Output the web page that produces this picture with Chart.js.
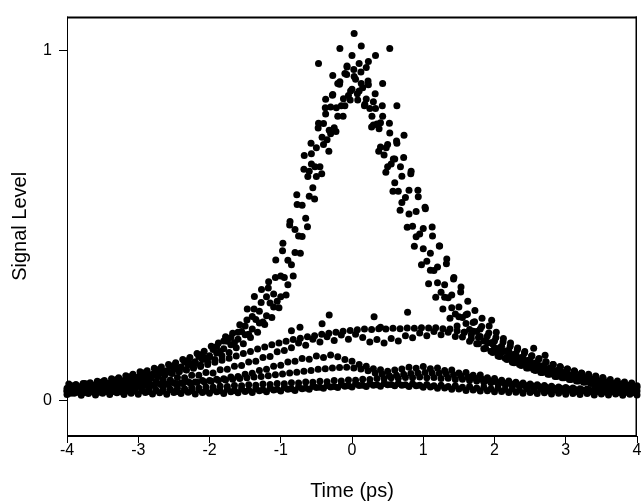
<!DOCTYPE html>
<html>
<head>
<meta charset="utf-8">
<script src="https://cdn.jsdelivr.net/npm/chart.js@4"></script>
<style>
   body { margin: 0; background: #fff; }
   canvas { display: block; }
</style>
</head>
<body>
<canvas id="signalChart" width="641" height="504"></canvas>
<script>
// Time axis samples (ps)
const timeA = [
   -4.0, -3.9, -3.8, -3.7, -3.6, -3.5, -3.4, -3.3, -3.2, -3.1,
   -3.0, -2.9, -2.8, -2.7, -2.6, -2.5, -2.4, -2.3, -2.2, -2.1,
   -2.0, -1.9, -1.8, -1.7, -1.6, -1.5, -1.4, -1.3, -1.2, -1.1,
   -1.0, -0.9, -0.8, -0.7, -0.6, -0.5, -0.4, -0.3, -0.2, -0.1,
   0.0, 0.1, 0.2, 0.3, 0.4, 0.5, 0.6, 0.7, 0.8, 0.9,
   1.0, 1.1, 1.2, 1.3, 1.4, 1.5, 1.6, 1.7, 1.8, 1.9,
   2.0, 2.1, 2.2, 2.3, 2.4, 2.5, 2.6, 2.7, 2.8, 2.9,
   3.0, 3.1, 3.2, 3.3, 3.4, 3.5, 3.6, 3.7, 3.8, 3.9,
   4.0
];
const timeB = [
   -3.95, -3.85, -3.75, -3.65, -3.55, -3.45, -3.35, -3.25, -3.15, -3.05,
   -2.95, -2.85, -2.75, -2.65, -2.55, -2.45, -2.35, -2.25, -2.15, -2.05,
   -1.95, -1.85, -1.75, -1.65, -1.55, -1.45, -1.35, -1.25, -1.15, -1.05,
   -0.95, -0.85, -0.75, -0.65, -0.55, -0.45, -0.35, -0.25, -0.15, -0.05,
   0.05, 0.15, 0.25, 0.35, 0.45, 0.55, 0.65, 0.75, 0.85, 0.95,
   1.05, 1.15, 1.25, 1.35, 1.45, 1.55, 1.65, 1.75, 1.85, 1.95,
   2.05, 2.15, 2.25, 2.35, 2.45, 2.55, 2.65, 2.75, 2.85, 2.95,
   3.05, 3.15, 3.25, 3.35, 3.45, 3.55, 3.65, 3.75, 3.85, 3.95
];
const timeD = [
   -3.975, -3.875, -3.775, -3.675, -3.575, -3.475, -3.375, -3.275, -3.175, -3.075,
   -2.975, -2.875, -2.775, -2.675, -2.575, -2.475, -2.375, -2.275, -2.175, -2.075,
   -1.975, -1.875, -1.775, -1.675, -1.575, -1.475, -1.375, -1.275, -1.175, -1.075,
   -0.975, -0.875, -0.775, -0.675, -0.575, -0.475, -0.375, -0.275, -0.175, -0.075,
   0.025, 0.125, 0.225, 0.325, 0.425, 0.525, 0.625, 0.725, 0.825, 0.925,
   1.025, 1.125, 1.225, 1.325, 1.425, 1.525, 1.625, 1.725, 1.825, 1.925,
   2.025, 2.125, 2.225, 2.325, 2.425, 2.525, 2.625, 2.725, 2.825, 2.925,
   3.025, 3.125, 3.225, 3.325, 3.425, 3.525, 3.625, 3.725, 3.825, 3.925
];
const timeE = [
   -3.925, -3.825, -3.725, -3.625, -3.525, -3.425, -3.325, -3.225, -3.125, -3.025,
   -2.925, -2.825, -2.725, -2.625, -2.525, -2.425, -2.325, -2.225, -2.125, -2.025,
   -1.925, -1.825, -1.725, -1.625, -1.525, -1.425, -1.325, -1.225, -1.125, -1.025,
   -0.925, -0.825, -0.725, -0.625, -0.525, -0.425, -0.325, -0.225, -0.125, -0.025,
   0.075, 0.175, 0.275, 0.375, 0.475, 0.575, 0.675, 0.775, 0.875, 0.975,
   1.075, 1.175, 1.275, 1.375, 1.475, 1.575, 1.675, 1.775, 1.875, 1.975,
   2.075, 2.175, 2.275, 2.375, 2.475, 2.575, 2.675, 2.775, 2.875, 2.975,
   3.075, 3.175, 3.275, 3.375, 3.475, 3.575, 3.675, 3.775, 3.875, 3.975
];
const timeC = [
   -1.47, -1.37, -1.27, -1.17, -1.07, -0.97, -0.87, -0.77, -0.67, -0.57,
   -0.47, -0.37, -0.27, -0.17, -0.07, 0.03, 0.13, 0.23, 0.33, 0.43,
   0.53, 0.63, 0.73, 0.83, 0.93, 1.03, 1.13, 1.23, 1.33, 1.43,
   1.53
];
const topTime = [
   -0.62, -0.57, -0.52, -0.47, -0.42, -0.37, -0.32, -0.27, -0.22, -0.17,
   -0.12, -0.07, -0.02, 0.03, 0.08, 0.13, 0.18, 0.23, 0.28, 0.33,
   0.38, 0.43, 0.48, 0.53, 0.58, 0.63, 0.68
];
const tailTime = [
   1.62, 1.72, 1.82, 1.92, 2.02, 2.12, 2.22, 2.32, 2.42, 2.52,
   2.62, 2.72, 2.82, 2.92, 3.02, 3.12, 3.22, 3.32, 3.42, 3.52
];
const strayTime = [-0.85, -0.73, -0.42, -0.32, 0.31, 0.40, 0.78, 1.96, 2.55, 2.71];

// Signal levels, one array per scan
const peak1 = [
   0.036, 0.043, 0.039, 0.048, 0.044, 0.055, 0.050, 0.061, 0.058, 0.070,
   0.068, 0.081, 0.076, 0.090, 0.086, 0.101, 0.097, 0.115, 0.112, 0.133,
   0.129, 0.155, 0.149, 0.181, 0.176, 0.214, 0.205, 0.256, 0.243, 0.305,
   0.297, 0.401, 0.423, 0.558, 0.584, 0.722, 0.731, 0.838, 0.812, 0.934,
   0.889, 0.962, 0.861, 0.853, 0.724, 0.731, 0.622, 0.641, 0.533, 0.540,
   0.434, 0.421, 0.337, 0.331, 0.266, 0.268, 0.221, 0.224, 0.184, 0.185,
   0.152, 0.156, 0.130, 0.134, 0.112, 0.116, 0.097, 0.099, 0.083, 0.086,
   0.072, 0.075, 0.062, 0.065, 0.055, 0.057, 0.048, 0.050, 0.042, 0.044,
   0.038
];
const peak2 = [
   0.044, 0.041, 0.050, 0.045, 0.053, 0.049, 0.060, 0.056, 0.069, 0.064,
   0.080, 0.074, 0.088, 0.083, 0.098, 0.094, 0.111, 0.106, 0.127, 0.122,
   0.147, 0.141, 0.170, 0.166, 0.198, 0.190, 0.232, 0.225, 0.279, 0.284,
   0.352, 0.388, 0.470, 0.521, 0.608, 0.668, 0.745, 0.779, 0.842, 0.871,
   0.917, 0.893, 0.834, 0.790, 0.701, 0.676, 0.598, 0.580, 0.498, 0.476,
   0.398, 0.372, 0.310, 0.294, 0.248, 0.238, 0.204, 0.198, 0.171, 0.166,
   0.145, 0.141, 0.124, 0.120, 0.107, 0.104, 0.092, 0.090, 0.080, 0.078,
   0.069, 0.067, 0.060, 0.058, 0.053, 0.051, 0.047, 0.045, 0.042, 0.040
];
const peak3 = [
   0.030, 0.034, 0.037, 0.039, 0.041, 0.043, 0.047, 0.050, 0.055, 0.058,
   0.063, 0.067, 0.072, 0.078, 0.082, 0.090, 0.095, 0.103, 0.108, 0.118,
   0.126, 0.137, 0.171, 0.160, 0.196, 0.189, 0.241, 0.222, 0.297, 0.268,
   0.356, 0.331, 0.489, 0.469, 0.655, 0.640, 0.791, 0.762, 0.905, 0.842,
   0.985, 0.884, 0.951, 0.787, 0.793, 0.668, 0.690, 0.566, 0.601, 0.468,
   0.492, 0.373, 0.382, 0.296, 0.302, 0.240, 0.246, 0.199, 0.205, 0.166,
   0.171, 0.139, 0.144, 0.119, 0.124, 0.103, 0.108, 0.089, 0.094, 0.077,
   0.082, 0.067, 0.071, 0.059, 0.062, 0.052, 0.055, 0.046, 0.049, 0.041,
   0.043
];
const peak4 = [
   0.048, 0.047, 0.050, 0.052, 0.056, 0.058, 0.063, 0.066, 0.072, 0.076,
   0.083, 0.086, 0.093, 0.097, 0.104, 0.109, 0.118, 0.124, 0.135, 0.142,
   0.156, 0.165, 0.183, 0.193, 0.217, 0.231, 0.262, 0.281, 0.322, 0.352,
   0.428, 0.502, 0.588, 0.661, 0.735, 0.778, 0.836, 0.872, 0.903, 0.931,
   0.945, 0.938, 0.912, 0.876, 0.842, 0.792, 0.741, 0.694, 0.648, 0.601,
   0.552, 0.496, 0.442, 0.391, 0.348, 0.311, 0.284, 0.258, 0.236, 0.214,
   0.196, 0.178, 0.165, 0.151, 0.141, 0.129, 0.121, 0.111, 0.104, 0.096,
   0.091, 0.084, 0.079, 0.073, 0.069, 0.064, 0.061, 0.057, 0.054, 0.051
];
const peak5 = [
   0.034, 0.036, 0.037, 0.040, 0.041, 0.044, 0.046, 0.050, 0.053, 0.057,
   0.061, 0.065, 0.069, 0.074, 0.078, 0.084, 0.089, 0.096, 0.102, 0.111,
   0.118, 0.129, 0.138, 0.152, 0.163, 0.181, 0.196, 0.218, 0.238, 0.266,
   0.302, 0.356, 0.421, 0.497, 0.576, 0.648, 0.712, 0.768, 0.812, 0.858,
   0.876, 0.842, 0.781, 0.712, 0.652, 0.598, 0.544, 0.495, 0.441, 0.388,
   0.334, 0.296, 0.262, 0.236, 0.214, 0.196, 0.178, 0.163, 0.150, 0.138,
   0.127, 0.118, 0.109, 0.101, 0.094, 0.087, 0.081, 0.076, 0.070, 0.066,
   0.061, 0.057, 0.054, 0.050, 0.047, 0.044, 0.042, 0.039, 0.037, 0.035
];
const peakExtra = [
   0.262, 0.298, 0.318, 0.340, 0.402, 0.450, 0.512, 0.560, 0.700, 0.676,
   0.962, 0.860, 0.928, 1.005, 0.955, 1.048, 1.012, 0.968, 0.985, 0.905,
   1.005, 0.842, 0.758, 0.655, 0.582, 0.548, 0.470, 0.442, 0.405, 0.352,
   0.325
];
const topLevel = [
   0.640, 0.705, 0.668, 0.792, 0.752, 0.818, 0.772, 0.874, 0.836, 0.910,
   0.862, 0.952, 0.884, 0.925, 0.858, 0.905, 0.846, 0.902, 0.812, 0.834,
   0.776, 0.812, 0.722, 0.764, 0.690, 0.735, 0.668
];
const tailLevel = [
   0.248, 0.226, 0.212, 0.194, 0.181, 0.168, 0.156, 0.146, 0.137, 0.128,
   0.119, 0.112, 0.104, 0.098, 0.091, 0.086, 0.080, 0.076, 0.071, 0.067
];
const midScan = [
   0.032, 0.036, 0.034, 0.039, 0.037, 0.042, 0.041, 0.046, 0.045, 0.051,
   0.050, 0.056, 0.055, 0.061, 0.060, 0.067, 0.066, 0.073, 0.073, 0.081,
   0.080, 0.089, 0.090, 0.099, 0.101, 0.111, 0.113, 0.124, 0.127, 0.140,
   0.144, 0.152, 0.165, 0.159, 0.176, 0.168, 0.183, 0.172, 0.188, 0.176,
   0.190, 0.181, 0.168, 0.175, 0.165, 0.178, 0.171, 0.186, 0.180, 0.194,
   0.186, 0.198, 0.189, 0.196, 0.184, 0.182, 0.170, 0.163, 0.149, 0.142,
   0.128, 0.122, 0.110, 0.104, 0.094, 0.089, 0.081, 0.076, 0.070, 0.066,
   0.061, 0.057, 0.053, 0.050, 0.047, 0.044, 0.042, 0.040, 0.038, 0.036
];
const midScan2 = [
   0.038, 0.040, 0.043, 0.045, 0.048, 0.050, 0.053, 0.056, 0.059, 0.062,
   0.065, 0.069, 0.072, 0.076, 0.080, 0.084, 0.088, 0.093, 0.098, 0.104,
   0.110, 0.116, 0.122, 0.128, 0.135, 0.141, 0.148, 0.154, 0.160, 0.165,
   0.170, 0.175, 0.179, 0.183, 0.186, 0.190, 0.193, 0.196, 0.199, 0.201,
   0.203, 0.205, 0.204, 0.206, 0.205, 0.207, 0.206, 0.208, 0.207, 0.209,
   0.208, 0.209, 0.206, 0.205, 0.200, 0.196, 0.189, 0.181, 0.172, 0.162,
   0.152, 0.143, 0.133, 0.124, 0.116, 0.108, 0.100, 0.093, 0.087, 0.081,
   0.075, 0.070, 0.065, 0.061, 0.057, 0.053, 0.050, 0.047, 0.044, 0.041
];
const lowScan1 = [
   0.027, 0.031, 0.029, 0.034, 0.032, 0.037, 0.035, 0.040, 0.038, 0.043,
   0.042, 0.046, 0.045, 0.049, 0.048, 0.052, 0.051, 0.055, 0.054, 0.058,
   0.058, 0.062, 0.063, 0.068, 0.070, 0.076, 0.079, 0.087, 0.090, 0.099,
   0.102, 0.111, 0.113, 0.121, 0.119, 0.128, 0.124, 0.131, 0.126, 0.118,
   0.113, 0.104, 0.099, 0.092, 0.089, 0.085, 0.088, 0.091, 0.096, 0.093,
   0.098, 0.092, 0.094, 0.087, 0.088, 0.080, 0.081, 0.073, 0.074, 0.066,
   0.064, 0.059, 0.057, 0.053, 0.051, 0.048, 0.046, 0.044, 0.042, 0.040,
   0.038, 0.037, 0.035, 0.034, 0.033, 0.032, 0.031, 0.030, 0.030, 0.029,
   0.028
];
const lowScan2 = [
   0.022, 0.026, 0.024, 0.027, 0.025, 0.029, 0.027, 0.030, 0.028, 0.032,
   0.030, 0.033, 0.031, 0.035, 0.033, 0.036, 0.035, 0.038, 0.037, 0.040,
   0.039, 0.042, 0.041, 0.044, 0.043, 0.046, 0.045, 0.048, 0.047, 0.050,
   0.049, 0.052, 0.051, 0.054, 0.053, 0.056, 0.055, 0.058, 0.057, 0.060,
   0.059, 0.062, 0.061, 0.064, 0.063, 0.066, 0.065, 0.067, 0.066, 0.068,
   0.066, 0.067, 0.064, 0.065, 0.061, 0.062, 0.058, 0.057, 0.053, 0.052,
   0.049, 0.047, 0.045, 0.043, 0.041, 0.039, 0.037, 0.036, 0.034, 0.033,
   0.031, 0.030, 0.029, 0.028, 0.027, 0.026, 0.026, 0.025, 0.025, 0.024
];
const lowScan3 = [
   0.026, 0.028, 0.029, 0.031, 0.032, 0.034, 0.035, 0.037, 0.038, 0.040,
   0.041, 0.043, 0.044, 0.046, 0.047, 0.049, 0.050, 0.052, 0.053, 0.055,
   0.056, 0.058, 0.060, 0.062, 0.064, 0.066, 0.068, 0.070, 0.072, 0.075,
   0.077, 0.080, 0.082, 0.085, 0.087, 0.090, 0.092, 0.094, 0.095, 0.096,
   0.094, 0.091, 0.086, 0.080, 0.076, 0.072, 0.073, 0.076, 0.078, 0.080,
   0.081, 0.080, 0.079, 0.077, 0.075, 0.072, 0.069, 0.065, 0.062, 0.058,
   0.055, 0.052, 0.049, 0.047, 0.045, 0.043, 0.041, 0.039, 0.037, 0.036,
   0.035, 0.033, 0.032, 0.031, 0.030, 0.029, 0.028, 0.028, 0.027, 0.026
];
const baseScan = [
   0.018, 0.022, 0.016, 0.021, 0.017, 0.022, 0.018, 0.023, 0.018, 0.022,
   0.019, 0.024, 0.020, 0.023, 0.019, 0.024, 0.021, 0.025, 0.020, 0.024,
   0.022, 0.026, 0.021, 0.026, 0.023, 0.027, 0.024, 0.029, 0.026, 0.031,
   0.028, 0.033, 0.030, 0.035, 0.033, 0.038, 0.036, 0.040, 0.038, 0.042,
   0.040, 0.044, 0.041, 0.045, 0.042, 0.046, 0.043, 0.045, 0.041, 0.043,
   0.039, 0.040, 0.036, 0.037, 0.033, 0.034, 0.030, 0.031, 0.028, 0.029,
   0.026, 0.027, 0.024, 0.025, 0.022, 0.024, 0.021, 0.023, 0.020, 0.022,
   0.019, 0.021, 0.018, 0.021, 0.017, 0.020, 0.017, 0.020, 0.016, 0.019,
   0.017
];
const baseScan2 = [
   0.028, 0.025, 0.030, 0.026, 0.029, 0.027, 0.031, 0.026, 0.030, 0.028,
   0.031, 0.027, 0.030, 0.028, 0.032, 0.027, 0.031, 0.029, 0.032, 0.028,
   0.032, 0.029, 0.033, 0.030, 0.034, 0.031, 0.035, 0.032, 0.036, 0.033,
   0.038, 0.035, 0.040, 0.037, 0.042, 0.039, 0.044, 0.041, 0.046, 0.043,
   0.048, 0.045, 0.049, 0.046, 0.050, 0.047, 0.050, 0.046, 0.049, 0.045,
   0.047, 0.043, 0.045, 0.041, 0.043, 0.039, 0.041, 0.037, 0.039, 0.035,
   0.037, 0.033, 0.035, 0.031, 0.034, 0.030, 0.033, 0.029, 0.032, 0.028,
   0.031, 0.027, 0.030, 0.026, 0.030, 0.026, 0.029, 0.025, 0.028, 0.025
];
const strayLevel = [0.200, 0.210, 0.220, 0.245, 0.240, 0.210, 0.253, 0.230, 0.150, 0.130];

const xTicks = [-4, -3, -2, -1, 0, 1, 2, 3, 4];
const yTicks = [0, 1];

// Pair time and level arrays into scatter points
function toPoints(times, levels) {
   return times.map((t, i) => ({ x: t, y: levels[i] }));
}

const scans = [
   [timeA, baseScan],
   [timeB, baseScan2],
   [timeB, lowScan2],
   [timeD, lowScan3],
   [timeA, lowScan1],
   [timeB, midScan],
   [timeE, midScan2],
   [timeA, peak1],
   [timeB, peak2],
   [timeA, peak3],
   [timeD, peak4],
   [timeE, peak5],
   [timeC, peakExtra],
   [topTime, topLevel],
   [tailTime, tailLevel],
   [strayTime, strayLevel]
];

const datasets = scans.map(([times, levels]) => ({
   data: toPoints(times, levels),
   backgroundColor: '#000',
   borderWidth: 0,
   pointRadius: 3.5,
   clip: false
}));

// Frame around the plot area
const framePlugin = {
   id: 'frame',
   afterDraw(chart) {
      const { ctx, chartArea: a } = chart;
      ctx.save();
      ctx.strokeStyle = '#000';
      ctx.lineWidth = 1;
      ctx.beginPath();
      ctx.moveTo(a.left + 0.5, a.top);
      ctx.lineTo(a.left + 0.5, a.bottom);
      ctx.stroke();
      ctx.lineWidth = 1.5;
      ctx.beginPath();
      ctx.moveTo(a.right - 0.75, a.top);
      ctx.lineTo(a.right - 0.75, a.bottom);
      ctx.stroke();
      ctx.lineWidth = 2;
      ctx.beginPath();
      ctx.moveTo(a.left, a.top + 1);
      ctx.lineTo(a.right, a.top + 1);
      ctx.moveTo(a.left, a.bottom);
      ctx.lineTo(a.right, a.bottom);
      ctx.stroke();
      ctx.restore();
   }
};

const fontFamily = "'Liberation Sans', Arial, sans-serif";

new Chart(document.getElementById('signalChart').getContext('2d'), {
   type: 'scatter',
   data: { datasets: datasets },
   options: {
      responsive: false,
      animation: false,
      layout: { padding: { top: 10, right: 2, left: 0, bottom: 0 } },
      plugins: {
         legend: { display: false },
         tooltip: { enabled: false }
      },
      scales: {
         x: {
            type: 'linear',
            min: -4,
            max: 4,
            afterBuildTicks: scale => { scale.ticks = xTicks.map(v => ({ value: v })); },
            afterFit: scale => { scale.height = 68; },
            border: { display: false },
            grid: { drawOnChartArea: false, drawTicks: true, tickLength: 7, color: '#000', lineWidth: 1 },
            ticks: { color: '#000', padding: -2, font: { family: fontFamily, size: 16 } },
            title: {
               display: true,
               text: 'Time (ps)',
               color: '#000',
               padding: { top: 0, bottom: 1 },
               font: { family: fontFamily, size: 20 }
            }
         },
         y: {
            type: 'linear',
            min: -0.1,
            max: 1.096,
            afterBuildTicks: scale => { scale.ticks = yTicks.map(v => ({ value: v })); },
            afterFit: scale => { scale.width = 67; },
            border: { display: false },
            grid: { drawOnChartArea: false, drawTicks: true, tickLength: 8, color: '#000', lineWidth: 1 },
            ticks: { color: '#000', padding: 7, font: { family: fontFamily, size: 16 } },
            title: {
               display: true,
               text: 'Signal Level',
               color: '#000',
               padding: { top: 8, bottom: 0 },
               font: { family: fontFamily, size: 20 }
            }
         }
      }
   },
   plugins: [framePlugin]
});
</script>
</body>
</html>
